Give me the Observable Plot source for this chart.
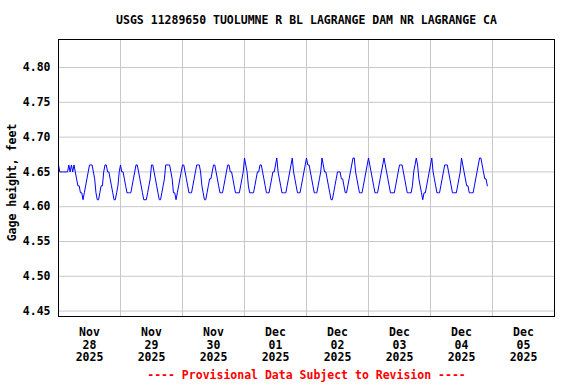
<!DOCTYPE html>
<html>
<head>
<meta charset="utf-8">
<script src="https://cdn.jsdelivr.net/npm/d3@7"></script>
<script src="https://cdn.jsdelivr.net/npm/@observablehq/plot@0.6"></script>
<style>
  html, body { margin: 0; padding: 0; background: #fff; }
</style>
</head>
<body>
<div id="chart"></div>
<script>
const title = "USGS 11289650 TUOLUMNE R BL LAGRANGE DAM NR LAGRANGE CA";
const yLabel = "Gage height, feet";
const caption = "---- Provisional Data Subject to Revision ----";

// Gage height (feet), every 30 minutes from 2025-11-28 00:00
const nov28 = [4.66,4.65,4.65,4.65,4.65,4.65,4.65,4.65,4.66,4.65,4.66,4.65,
               4.66,4.65,4.64,4.63,4.63,4.62,4.62,4.61,4.62,4.63,4.64,4.65,
               4.66,4.66,4.66,4.65,4.64,4.62,4.61,4.61,4.62,4.63,4.63,4.65,
               4.66,4.66,4.65,4.65,4.64,4.63,4.62,4.61,4.61,4.62,4.63,4.65];
const nov29 = [4.66,4.65,4.65,4.64,4.63,4.62,4.62,4.62,4.62,4.63,4.64,4.65,
               4.66,4.66,4.65,4.64,4.63,4.62,4.61,4.61,4.61,4.62,4.63,4.64,
               4.66,4.66,4.65,4.64,4.63,4.62,4.61,4.61,4.62,4.63,4.64,4.66,
               4.66,4.66,4.66,4.65,4.64,4.62,4.62,4.61,4.62,4.63,4.64,4.65];
const nov30 = [4.66,4.66,4.65,4.64,4.63,4.62,4.62,4.62,4.63,4.64,4.65,4.66,
               4.66,4.66,4.65,4.63,4.62,4.61,4.61,4.62,4.63,4.64,4.64,4.65,
               4.66,4.66,4.65,4.64,4.63,4.62,4.62,4.62,4.63,4.64,4.65,4.66,
               4.66,4.65,4.65,4.64,4.63,4.62,4.62,4.62,4.62,4.63,4.64,4.65];
const dec01 = [4.67,4.66,4.65,4.63,4.62,4.62,4.62,4.62,4.63,4.64,4.65,4.65,
               4.66,4.66,4.65,4.64,4.63,4.62,4.62,4.62,4.63,4.64,4.65,4.65,
               4.66,4.67,4.65,4.64,4.63,4.62,4.62,4.62,4.62,4.63,4.64,4.65,
               4.66,4.67,4.65,4.64,4.63,4.62,4.62,4.62,4.63,4.64,4.65,4.66];
const dec02 = [4.67,4.66,4.66,4.65,4.64,4.63,4.62,4.62,4.62,4.63,4.64,4.65,
               4.67,4.66,4.65,4.65,4.64,4.63,4.62,4.61,4.61,4.62,4.63,4.64,
               4.65,4.65,4.65,4.64,4.64,4.63,4.62,4.62,4.63,4.64,4.65,4.66,
               4.67,4.67,4.65,4.64,4.63,4.62,4.62,4.62,4.63,4.64,4.65,4.66];
const dec03 = [4.67,4.66,4.65,4.64,4.63,4.62,4.62,4.62,4.63,4.64,4.65,4.66,
               4.67,4.66,4.65,4.64,4.63,4.62,4.62,4.62,4.62,4.63,4.64,4.65,
               4.66,4.66,4.66,4.65,4.64,4.63,4.62,4.62,4.62,4.62,4.63,4.65,
               4.66,4.67,4.66,4.64,4.63,4.62,4.61,4.62,4.62,4.63,4.64,4.65];
const dec04 = [4.66,4.67,4.65,4.64,4.63,4.62,4.62,4.62,4.63,4.64,4.65,4.66,
               4.66,4.66,4.65,4.64,4.63,4.62,4.62,4.62,4.62,4.63,4.64,4.65,
               4.67,4.66,4.65,4.64,4.63,4.63,4.62,4.62,4.62,4.62,4.63,4.64,
               4.65,4.66,4.67,4.67,4.66,4.65,4.64,4.64,4.63];

const yTicks = [4.45, 4.50, 4.55, 4.60, 4.65, 4.70, 4.75, 4.80];
const dayLabels = ["Nov\n28\n2025","Nov\n29\n2025","Nov\n30\n2025","Dec\n01\n2025",
                   "Dec\n02\n2025","Dec\n03\n2025","Dec\n04\n2025","Dec\n05\n2025"];

const start = Date.UTC(2025, 10, 28, 0, 0);
const HALF_HOUR = 30 * 60 * 1000;
const DAY = 24 * 60 * 60 * 1000;
const values = [...nov28, ...nov29, ...nov30, ...dec01, ...dec02, ...dec03, ...dec04];
const data = values.map((v, i) => ({time: new Date(start + i * HALF_HOUR), gage: v}));

const noons = dayLabels.map((_, k) => new Date(start + k * DAY + DAY / 2));
const midnights = dayLabels.slice(1).map((_, k) => new Date(start + (k + 1) * DAY));
const labelOf = new Map(noons.map((d, k) => [+d, dayLabels[k]]));

const font = "'DejaVu Sans Mono', monospace";

const chart = Plot.plot({
  width: 576,
  height: 384,
  marginLeft: 58,
  marginRight: 22,
  marginTop: 39,
  marginBottom: 68,
  style: {fontFamily: font, fontSize: "11.5px", fontWeight: "bold", background: "#fff", color: "#000"},
  x: {type: "utc", domain: [new Date(start), new Date(start + 8 * DAY)]},
  y: {domain: [4.4422, 4.8403]},
  marks: [
    Plot.gridY(yTicks, {stroke: "#c8c8c8", strokeOpacity: 1}),
    Plot.gridX(midnights, {stroke: "#c8c8c8", strokeOpacity: 1}),
    Plot.lineY(data, {x: "time", y: "gage", stroke: "#0000ff", strokeWidth: 1}),
    Plot.frame({stroke: "#000", strokeWidth: 1}),
    Plot.axisY(yTicks, {tickSize: 0, tickPadding: 8, tickFormat: d => d.toFixed(2), label: null}),
    Plot.axisX(noons, {tickSize: 0, tickPadding: 10, tickFormat: d => labelOf.get(+d), lineHeight: 1.12, label: null}),
    Plot.text([title], {frameAnchor: "top", lineAnchor: "middle", dy: -19, fontSize: 11.5, fontWeight: "bold"}),
    Plot.text([yLabel], {frameAnchor: "left", textAnchor: "middle", lineAnchor: "middle", dx: -46, dy: 4.5, rotate: -90, fontSize: 11.5, fontWeight: "bold"}),
    Plot.text([caption], {frameAnchor: "bottom", lineAnchor: "middle", dy: 59, fill: "#ff0000", fontSize: 11.5, fontWeight: "bold"})
  ]
});
document.getElementById("chart").appendChild(chart);
</script>
</body>
</html>
